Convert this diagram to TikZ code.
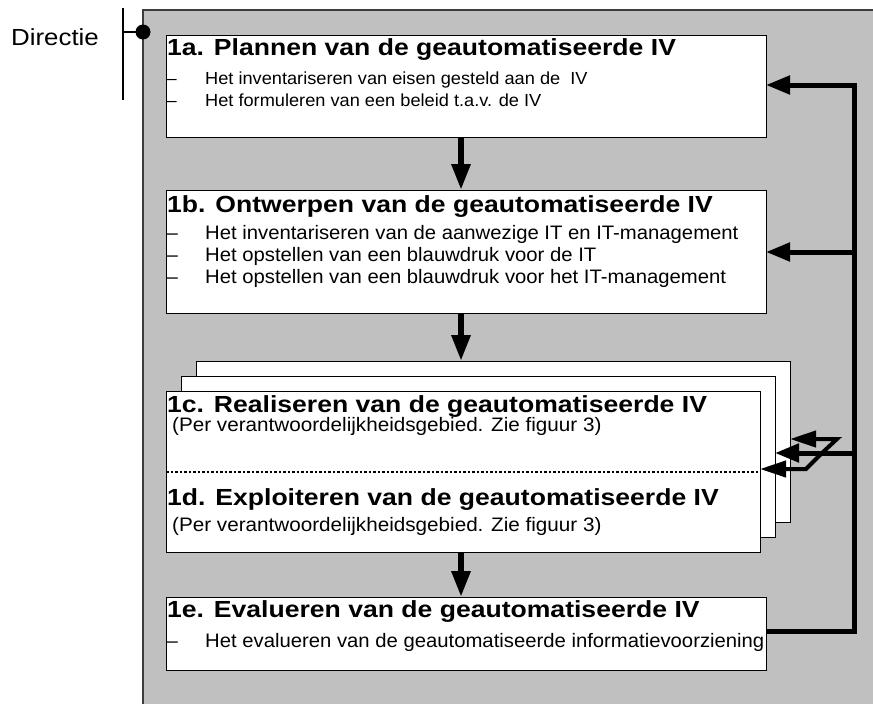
\documentclass[tikz,border=0pt]{standalone}
\usepackage{fontspec}
\setmainfont{Liberation Sans}
\newfontfamily\titlef[FakeStretch=1.14]{Liberation Sans}
\newfontfamily\smallf[FakeStretch=1.04]{Liberation Sans}
\newfontfamily\perf[FakeStretch=1.06]{Liberation Sans}
\newfontfamily\dirf[FakeStretch=1.11]{Liberation Sans}
\usetikzlibrary{arrows.meta}
\definecolor{bg}{RGB}{192,192,192}
\definecolor{bgline}{RGB}{60,60,60}
\begin{document}
\begin{tikzpicture}[x=1pt,y=-1pt,
  card/.style={draw=black,line width=1pt,fill=white,anchor=north west,inner sep=0pt,outer sep=0pt},
  ttl/.style={anchor=base west,inner sep=0pt,font=\titlef\bfseries\fontsize{23.3}{28}\selectfont},
  itm/.style={anchor=base west,inner sep=0pt,font=\smallf\fontsize{19.5}{23}\selectfont},
  itmsm/.style={anchor=base west,inner sep=0pt,font=\smallf\fontsize{17.5}{21}\selectfont},
  peritm/.style={anchor=base west,inner sep=0pt,font=\perf\fontsize{19.5}{23}\selectfont},
  flow/.style={line width=6pt,-{Triangle[length=26pt,width=18pt]}},
  fback/.style={line width=5pt,-{Triangle[length=24pt,width=18pt]}},
  fsmall/.style={line width=4pt,line join=miter,-{Triangle[length=26pt,width=16pt]}},
  loopline/.style={line width=5pt,line join=miter}]
\useasboundingbox (0,0) rectangle (873,704);
\clip (0,0) rectangle (873,704);
% background
\node[draw=bgline,line width=1.5pt,fill=bg,anchor=north west,inner sep=0pt,outer sep=0pt,
  minimum width=740pt,minimum height=710pt] (panel) at (143,10) {};
% Directie
\node[anchor=base west,inner sep=0pt,font=\dirf\fontsize{23.3}{28}\selectfont] (dir) at (11,45) {Directie};
\coordinate (dtop) at (123,8);
\coordinate (dbot) at (123,100);
\coordinate (dmid) at (123,32);
\draw[line width=1.2pt] (dtop) -- (dbot);
\node[circle,fill=black,inner sep=0pt,minimum size=15pt] (dot) at (143,32) {};
\draw[line width=1.2pt] (dmid) -- (dot.center);
% boxes
\node[card,minimum width=600pt,minimum height=102pt] (b1a) at (166,35) {};
\node[card,minimum width=600pt,minimum height=123pt] (b1b) at (166,190) {};
\node[card,minimum width=594pt,minimum height=161pt] (cB) at (196,361) {};
\node[card,minimum width=594pt,minimum height=161pt] (cM) at (181,376) {};
\node[card,minimum width=594pt,minimum height=161pt] (cF) at (166,391) {};
\node[card,minimum width=600pt,minimum height=73pt] (b1e) at (166,597) {};
\draw[line width=2.5pt,dash pattern=on 2.5pt off 2pt] (cF.west |- 0,472) -- (cF.east |- 0,472);
% texts 1a
\node[ttl] (t1a) at (167,55) {1a. Plannen van de geautomatiseerde IV};
\node[itmsm] (d1a1) at (166.5,84) {–};
\node[itmsm] (i1a1) at (205,84) {Het inventariseren van eisen gesteld aan de~ IV};
\node[itmsm] (d1a2) at (166.5,106) {–};
\node[itmsm] (i1a2) at (205,106) {Het formuleren van een beleid t.a.v. de IV};
% texts 1b
\node[ttl] (t1b) at (167,212) {1b. Ontwerpen van de geautomatiseerde IV};
\node[itm] (d1b1) at (166.5,239) {–};
\node[itm] (i1b1) at (205,239) {Het inventariseren van de aanwezige IT en IT-management};
\node[itm] (d1b2) at (166.5,261) {–};
\node[itm] (i1b2) at (205,261) {Het opstellen van een blauwdruk voor de IT};
\node[itm] (d1b3) at (166.5,283) {–};
\node[itm] (i1b3) at (205,283) {Het opstellen van een blauwdruk voor het IT-management};
% texts 1c / 1d
\node[ttl] (t1c) at (167,412) {1c. Realiseren van de geautomatiseerde IV};
\node[peritm] (i1c) at (172,431) {(Per verantwoordelijkheidsgebied. Zie figuur 3)};
\node[ttl] (t1d) at (167,505) {1d. Exploiteren van de geautomatiseerde IV};
\node[peritm] (i1d) at (172,531) {(Per verantwoordelijkheidsgebied. Zie figuur 3)};
% texts 1e
\node[ttl] (t1e) at (167,617) {1e. Evalueren van de geautomatiseerde IV};
\node[itm] (d1e1) at (166.5,647) {–};
\node[itm] (i1e1) at (205,647) {Het evalueren van de geautomatiseerde informatievoorziening};
% vertical flow arrows
\coordinate (ax) at (461,0);
\draw[flow] (ax |- b1a.south) -- (ax |- b1b.north);
\draw[flow] (ax |- b1b.south) -- (ax |- cB.north);
\draw[flow] (ax |- cF.south) -- (ax |- b1e.north);
% feedback loop
\coordinate (jE) at (854,631);
\coordinate (jA) at (854,85);
\coordinate (jB) at (854,252);
\coordinate (jC) at (854,453);
\coordinate (jX) at (822,453);
\coordinate (jU) at (837,439);
\coordinate (jD) at (806,469);
\draw[loopline,fback] (b1e.east |- jE) -- (jE) -- (jA) -- (jA -| b1a.east);
\draw[fback] (jB) -- (jB -| b1b.east);
\draw[fback] (jC) -- (jC -| cM.east);
\draw[fsmall] (jX) -- (jU) -- (jU -| cB.east);
\draw[fsmall] (jX) -- (jD) -- (jD -| cF.east);
\end{tikzpicture}
\end{document}
